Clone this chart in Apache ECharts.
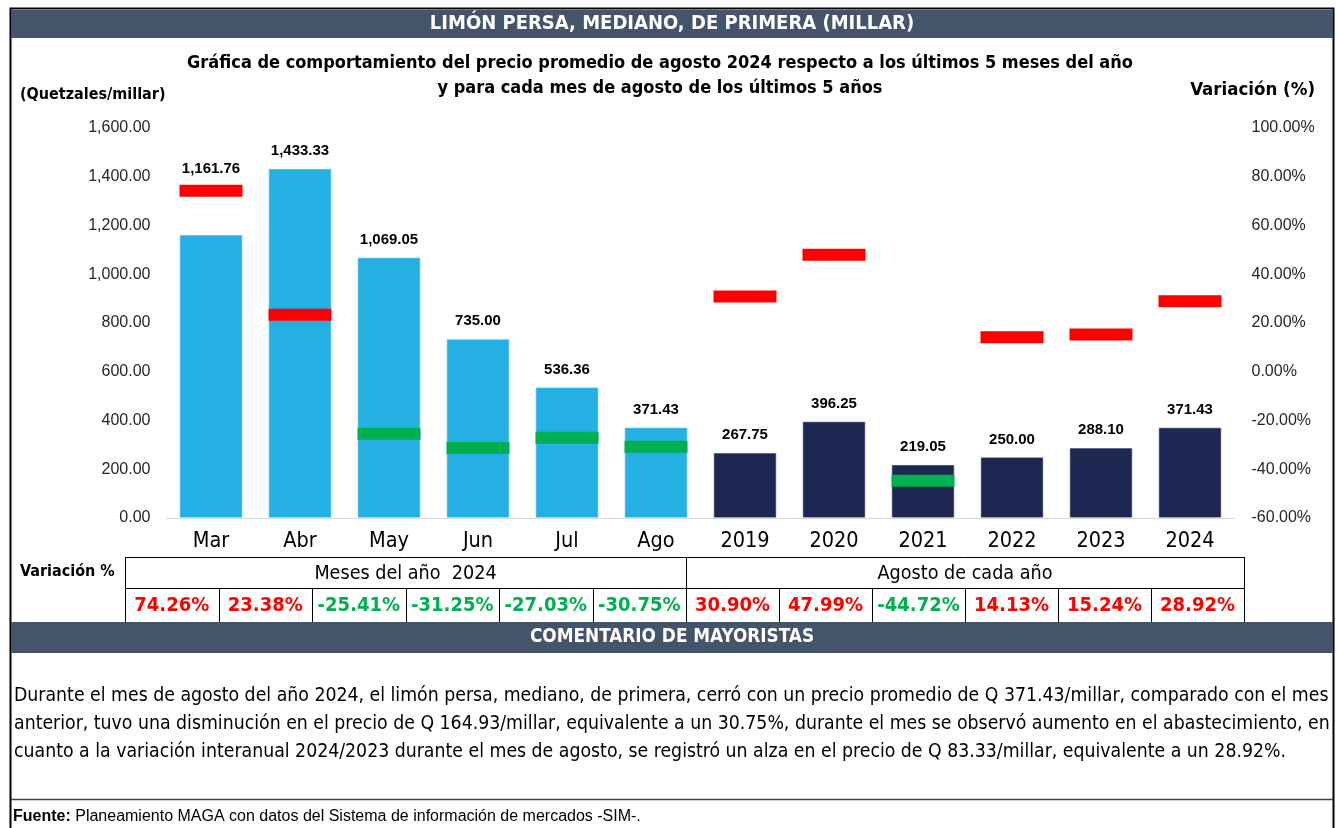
<!DOCTYPE html>
<html>
<head>
<meta charset="utf-8">
<script src="https://cdn.jsdelivr.net/npm/echarts@6/dist/echarts.min.js"></script>
<style>
html,body{margin:0;padding:0;background:#fff;}
#c{width:1337px;height:828px;}
</style>
</head>
<body>
<div id="c"></div>
<script>
// ---- data ----
const categories = ['Mar','Abr','May','Jun','Jul','Ago','2019','2020','2021','2022','2023','2024'];
const prices = [1161.76,1433.33,1069.05,735.00,536.36,371.43,267.75,396.25,219.05,250.00,288.10,371.43];
const variation = [74.26,23.38,-25.41,-31.25,-27.03,-30.75,30.90,47.99,-44.72,14.13,15.24,28.92];
const monthsCount = 6; // first group: months of 2024, second group: August of each year
const leftTicks = {min:0, max:1600, interval:200};
const rightTicks = {min:-60, max:100, interval:20};
const groupLabels = ['Meses del año  2024','Agosto de cada año'];
const headerTitle = 'LIMÓN PERSA, MEDIANO, DE PRIMERA (MILLAR)';
const titleLines = ['Gráfica de comportamiento del precio promedio de agosto 2024 respecto a los últimos 5 meses del año','y para cada mes de agosto de los últimos 5 años'];
const commentTitle = 'COMENTARIO DE MAYORISTAS';
const commentLines = [
 'Durante el mes de agosto del año 2024, el limón persa, mediano, de primera, cerró con un precio promedio de Q 371.43/millar, comparado con el mes',
 'anterior, tuvo una disminución en el precio de Q 164.93/millar, equivalente a un 30.75%, durante el mes se observó aumento en el abastecimiento, en',
 'cuanto a la variación interanual 2024/2023 durante el mes de agosto, se registró un alza en el precio de Q 83.33/millar, equivalente a un 28.92%.'
];

// ---- styles ----
const NARROW = "'Liberation Sans Narrow','Arial Narrow','DejaVu Sans Condensed',sans-serif";
const SANS = "'Liberation Sans',Arial,sans-serif";
const SLATE = '#44546a';
const LIGHT = '#25b0e4';
const NAVY = '#1d2852';
const RED = '#ff0000';
const GREEN = '#00b050';
const GRID = {left:166.5,right:102.5,top:128,bottom:310};
const MARK_H = 12;

function fmtNum(v){
  return v.toLocaleString('en-US',{minimumFractionDigits:2,maximumFractionDigits:2});
}

const chart = echarts.init(document.getElementById('c'));

// pixel y of a variation value on the right axis (for label collision only)
const plotH = 828 - GRID.top - GRID.bottom;
function rightY(v){ return GRID.top + (rightTicks.max - v)/(rightTicks.max-rightTicks.min)*plotH; }

// table geometry
const tL = 125, tMid = 686, tR = 1244, tTop = 557, tRow = 588, tBot = 622;
const g = [];
g.push({type:'rect',shape:{x:10.5,y:8.5,width:1323,height:830},style:{fill:'none',stroke:'#000',lineWidth:2},z:1});
g.push({type:'rect',shape:{x:11,y:10,width:1322,height:28},style:{fill:SLATE},z:2});
g.push({type:'text',x:672,y:24,style:{text:headerTitle,fill:'#fff',font:"bold 20px "+NARROW,align:'center',verticalAlign:'middle'},z:3});
g.push({type:'text',x:660,y:63,style:{text:titleLines[0],fill:'#000',font:"bold 18px "+NARROW,align:'center',verticalAlign:'middle'},z:3});
g.push({type:'text',x:660,y:88,style:{text:titleLines[1],fill:'#000',font:"bold 18px "+NARROW,align:'center',verticalAlign:'middle'},z:3});
g.push({type:'text',x:20,y:95,style:{text:'(Quetzales/millar)',fill:'#000',font:"bold 16px "+NARROW,align:'left',verticalAlign:'middle'},z:3});
g.push({type:'text',x:1315,y:90,style:{text:'Variación (%)',fill:'#000',font:"bold 18.5px "+NARROW,align:'right',verticalAlign:'middle'},z:3});
// table
g.push({type:'text',x:20,y:572,style:{text:'Variación %',fill:'#000',font:"bold 16px "+NARROW,align:'left',verticalAlign:'middle'},z:3});
const tline = (x1,y1,x2,y2)=>({type:'line',shape:{x1,y1,x2,y2},style:{stroke:'#000',lineWidth:1},z:3});
g.push(tline(tL,tTop+0.5,tR,tTop+0.5));
g.push(tline(tL,tRow+0.5,tR,tRow+0.5));
g.push(tline(tL+0.5,tTop,tL+0.5,tBot));
g.push(tline(tR+0.5,tTop,tR+0.5,tBot));
g.push(tline(tMid+0.5,tTop,tMid+0.5,tBot));
const cellW1 = (tMid-tL)/monthsCount, cellW2 = (tR-tMid)/(categories.length-monthsCount);
g.push({type:'text',x:(tL+tMid)/2,y:(tTop+tRow)/2+1,style:{text:groupLabels[0],fill:'#000',font:"19.6px "+NARROW,align:'center',verticalAlign:'middle'},z:3});
g.push({type:'text',x:(tMid+tR)/2,y:(tTop+tRow)/2+1,style:{text:groupLabels[1],fill:'#000',font:"19.6px "+NARROW,align:'center',verticalAlign:'middle'},z:3});
variation.forEach((v,i)=>{
  let x0, w;
  if(i<monthsCount){ w=cellW1; x0=tL+i*w; } else { w=cellW2; x0=tMid+(i-monthsCount)*w; }
  if(i!==0 && i!==monthsCount) g.push(tline(Math.round(x0)+0.5,tRow,Math.round(x0)+0.5,tBot));
  g.push({type:'text',x:x0+w/2,y:(tRow+tBot)/2+1,style:{text:v.toFixed(2)+'%',fill:v>=0?RED:GREEN,font:"bold 20px "+NARROW,align:'center',verticalAlign:'middle'},z:3});
});
// comment
g.push({type:'rect',shape:{x:11,y:622,width:1322,height:31},style:{fill:SLATE},z:2});
g.push({type:'text',x:672,y:637,style:{text:commentTitle,fill:'#fff',font:"bold 18.8px "+NARROW,align:'center',verticalAlign:'middle'},z:3});
commentLines.forEach((t,i)=>{
  g.push({type:'text',x:14,y:696+i*28,style:{text:t,fill:'#000',font:"19.3px "+NARROW,align:'left',verticalAlign:'middle'},z:3});
});
g.push({type:'line',shape:{x1:11,y1:799.5,x2:1333,y2:799.5},style:{stroke:'#404040',lineWidth:1.5},z:3});
g.push({type:'text',x:13,y:817,style:{rich:{b:{font:"bold 16px "+SANS,fill:'#000'},n:{font:"16px "+SANS,fill:'#000'}},text:'{b|Fuente:}{n| Planeamiento MAGA con datos del Sistema de información de mercados -SIM-.}',align:'left',verticalAlign:'middle'},z:3});

const option = {
  animation:false,
  backgroundColor:'#fff',
  grid:GRID,
  xAxis:{
    type:'category',data:categories,
    axisLine:{lineStyle:{color:'#d9d9d9',width:1}},
    axisTick:{show:false},
    axisLabel:{color:'#000',fontFamily:NARROW,fontSize:21.5,margin:12}
  },
  yAxis:[
    {type:'value',min:leftTicks.min,max:leftTicks.max,interval:leftTicks.interval,
     splitLine:{show:false},axisLine:{show:false},axisTick:{show:false},
     axisLabel:{color:'#262626',fontFamily:SANS,fontSize:16,margin:16,formatter:v=>fmtNum(v)}},
    {type:'value',min:rightTicks.min,max:rightTicks.max,interval:rightTicks.interval,position:'right',
     splitLine:{show:false},axisLine:{show:false},axisTick:{show:false},
     axisLabel:{color:'#262626',fontFamily:SANS,fontSize:16,margin:17,formatter:v=>v.toFixed(2)+'%'}}
  ],
  series:[
    {type:'bar',data:prices,barWidth:63,yAxisIndex:0,
     itemStyle:{color:p=>p.dataIndex<monthsCount?LIGHT:NAVY,borderColor:'#e8f4fb',borderWidth:0.6},
     label:{show:true,position:'top',distance:10,color:'#000',fontFamily:SANS,fontWeight:'bold',fontSize:15,formatter:p=>fmtNum(p.value)},
     labelLayout:function(p){
       if(p.seriesIndex!==0) return {};
       const my = rightY(variation[p.dataIndex]);
       const barTop = p.rect.y;
       // marker sitting just above the bar: lift the value label above the marker
       if(my < barTop && my > barTop - 70){
         const bottom = p.labelRect.y + p.labelRect.height;
         return {dy: (my - MARK_H/2 - 8) - bottom};
       }
       return {};
     },
     z:2},
    {type:'scatter',data:variation,yAxisIndex:1,symbol:'rect',symbolSize:[63,MARK_H],
     itemStyle:{color:p=>p.value>=0?RED:GREEN,opacity:1},
     z:5}
  ],
  graphic:g
};
chart.setOption(option);
</script>
</body>
</html>
